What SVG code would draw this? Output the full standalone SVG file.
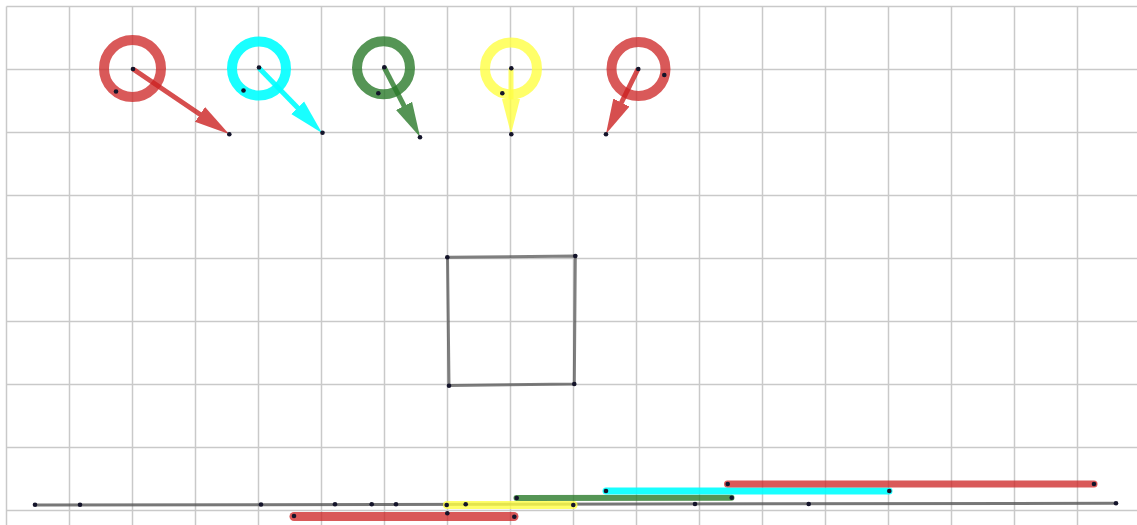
<svg xmlns="http://www.w3.org/2000/svg" width="1137" height="525" viewBox="0 0 1137 525">
<defs>
<style>
.grid line{stroke:#c9c9c9;stroke-width:1.5}
.ring{fill:none;stroke-width:10}
.dot{fill:#14142a}
.seg{stroke-linecap:round;fill:none}
.red{stroke:#cc2222}
.cyan{stroke:#00ffff}
.green{stroke:#2a7a2a}
.yellow{stroke:#ffff44}
.gray{stroke:#555;fill:none}
.arrow line{stroke-width:5}
</style>
<marker id="hr" markerUnits="userSpaceOnUse" markerWidth="40" markerHeight="24" viewBox="0 -12 40 24" refX="15" refY="0" orient="auto"><path d="M0,-9 L35,0 L0,9 Z" fill="#cc2222"/></marker>
<marker id="hc" markerUnits="userSpaceOnUse" markerWidth="40" markerHeight="24" viewBox="0 -12 40 24" refX="15" refY="0" orient="auto"><path d="M0,-9 L35,0 L0,9 Z" fill="#00ffff"/></marker>
<marker id="hg" markerUnits="userSpaceOnUse" markerWidth="40" markerHeight="24" viewBox="0 -12 40 24" refX="15" refY="0" orient="auto"><path d="M0,-9 L35,0 L0,9 Z" fill="#2a7a2a"/></marker>
<marker id="hy" markerUnits="userSpaceOnUse" markerWidth="40" markerHeight="24" viewBox="0 -12 40 24" refX="15" refY="0" orient="auto"><path d="M0,-9 L35,0 L0,9 Z" fill="#ffff44"/></marker>
</defs>
<rect width="1137" height="525" fill="#fff"/>
<g class="grid">
<line x1="6.5" y1="6.5" x2="1137" y2="6.5"/>
<line x1="6.5" y1="69.5" x2="1137" y2="69.5"/>
<line x1="6.5" y1="132.5" x2="1137" y2="132.5"/>
<line x1="6.5" y1="195.5" x2="1137" y2="195.5"/>
<line x1="6.5" y1="258.5" x2="1137" y2="258.5"/>
<line x1="6.5" y1="321.5" x2="1137" y2="321.5"/>
<line x1="6.5" y1="384.5" x2="1137" y2="384.5"/>
<line x1="6.5" y1="447.5" x2="1137" y2="447.5"/>
<line x1="6.5" y1="510.5" x2="1137" y2="510.5"/>
<line x1="6.5" y1="6.5" x2="6.5" y2="525"/>
<line x1="69.5" y1="6.5" x2="69.5" y2="525"/>
<line x1="132.5" y1="6.5" x2="132.5" y2="525"/>
<line x1="195.5" y1="6.5" x2="195.5" y2="525"/>
<line x1="258.5" y1="6.5" x2="258.5" y2="525"/>
<line x1="321.5" y1="6.5" x2="321.5" y2="525"/>
<line x1="384.5" y1="6.5" x2="384.5" y2="525"/>
<line x1="447.5" y1="6.5" x2="447.5" y2="525"/>
<line x1="510.5" y1="6.5" x2="510.5" y2="525"/>
<line x1="573.5" y1="6.5" x2="573.5" y2="525"/>
<line x1="636.5" y1="6.5" x2="636.5" y2="525"/>
<line x1="699.5" y1="6.5" x2="699.5" y2="525"/>
<line x1="762.5" y1="6.5" x2="762.5" y2="525"/>
<line x1="825.5" y1="6.5" x2="825.5" y2="525"/>
<line x1="888.5" y1="6.5" x2="888.5" y2="525"/>
<line x1="951.5" y1="6.5" x2="951.5" y2="525"/>
<line x1="1014.5" y1="6.5" x2="1014.5" y2="525"/>
<line x1="1077.5" y1="6.5" x2="1077.5" y2="525"/>
</g>

<g id="bottom-lines">
<line class="gray" x1="35" y1="505" x2="1116" y2="503.3" stroke-width="3" stroke-opacity="0.8"/>
<line class="seg red" x1="294" y1="516.5" x2="514" y2="516.5" stroke-width="9" stroke-opacity="0.75"/>
<line class="seg yellow" x1="447" y1="505" x2="573.5" y2="505" stroke-width="8" stroke-opacity="0.8"/>
<line class="seg green" x1="516.5" y1="498" x2="731.5" y2="497.7" stroke-width="6" stroke-opacity="0.8"/>
<line class="seg cyan" x1="606" y1="491" x2="889" y2="491" stroke-width="7" stroke-opacity="0.9"/>
<line class="seg red" x1="727.5" y1="484" x2="1094" y2="484" stroke-width="7" stroke-opacity="0.75"/>
</g>

<g id="square">
<path d="M447.5,257.3 L575.3,256 L574.3,384 L449,385.5 Z" fill="none" stroke="#555" stroke-width="3" stroke-opacity="0.75" stroke-linejoin="round"/>
</g>

<g id="node-red-1"><circle class="ring red" cx="132.5" cy="68.5" r="28.5" stroke-opacity="0.75"/></g>
<g id="node-cyan"><circle class="ring cyan" cx="259" cy="68.5" r="27" stroke-opacity="0.9"/></g>
<g id="node-green"><circle class="ring green" cx="383.5" cy="67.8" r="26.5" stroke-opacity="0.8"/></g>
<g id="node-yellow"><circle class="ring yellow" cx="511" cy="68.5" r="26" stroke-opacity="0.8"/></g>
<g id="node-red-2"><circle class="ring red" cx="638.5" cy="69" r="27" stroke-opacity="0.75"/></g>

<g id="connectors">
<g class="arrow" opacity="0.8"><line x1="133" y1="69" x2="212.4" y2="122.8" stroke="#cc2222" marker-end="url(#hr)"/></g>
<g class="arrow" opacity="0.9"><line x1="259" y1="68" x2="308.1" y2="118.6" stroke="#00ffff" marker-end="url(#hc)"/></g>
<g class="arrow" opacity="0.8"><line x1="384" y1="67" x2="410.9" y2="119.2" stroke="#2a7a2a" marker-end="url(#hg)"/></g>
<g class="arrow" opacity="0.8"><line x1="511" y1="68" x2="511" y2="114" stroke="#ffff44" marker-end="url(#hy)"/></g>
<g class="arrow" opacity="0.8"><line x1="638" y1="69" x2="614.8" y2="116" stroke="#cc2222" marker-end="url(#hr)"/></g>
</g>

<g id="points" class="dot">
<circle cx="133" cy="69" r="2.3"/><circle cx="116" cy="91.5" r="2.3"/><circle cx="229.3" cy="134.3" r="2.3"/>
<circle cx="259" cy="67.5" r="2.3"/><circle cx="243.5" cy="90.5" r="2.3"/><circle cx="322.5" cy="132.8" r="2.3"/>
<circle cx="384.3" cy="67.3" r="2.3"/><circle cx="378.3" cy="93.3" r="2.3"/><circle cx="420" cy="137.3" r="2.3"/>
<circle cx="511.3" cy="68.3" r="2.3"/><circle cx="502.3" cy="93.3" r="2.3"/><circle cx="511.3" cy="134.3" r="2.3"/>
<circle cx="638.3" cy="69" r="2.3"/><circle cx="664.3" cy="75" r="2.3"/><circle cx="606" cy="134.3" r="2.3"/>
<circle cx="447.3" cy="257.3" r="2.3"/><circle cx="575.3" cy="256" r="2.3"/><circle cx="449" cy="385.7" r="2.3"/><circle cx="574.3" cy="384" r="2.3"/>
<circle cx="35" cy="504.7" r="2.3"/><circle cx="80" cy="504.7" r="2.3"/><circle cx="261" cy="504.5" r="2.3"/>
<circle cx="335" cy="504.3" r="2.3"/><circle cx="371.7" cy="504.3" r="2.3"/><circle cx="396" cy="504.3" r="2.3"/>
<circle cx="695" cy="504" r="2.3"/><circle cx="808.7" cy="504" r="2.3"/><circle cx="1116" cy="503.3" r="2.3"/>
<circle cx="446.7" cy="505" r="2.3"/><circle cx="465.7" cy="504.3" r="2.3"/><circle cx="573.3" cy="505" r="2.3"/>
<circle cx="294" cy="516" r="2.3"/><circle cx="514.3" cy="516.7" r="2.3"/><circle cx="447.3" cy="513.3" r="2.3"/>
<circle cx="516.7" cy="498" r="2.3"/><circle cx="731.7" cy="497.7" r="2.3"/>
<circle cx="606" cy="491" r="2.3"/><circle cx="889.3" cy="491" r="2.3"/>
<circle cx="727.7" cy="484" r="2.3"/><circle cx="1094" cy="484" r="2.3"/>
</g>
</svg>
